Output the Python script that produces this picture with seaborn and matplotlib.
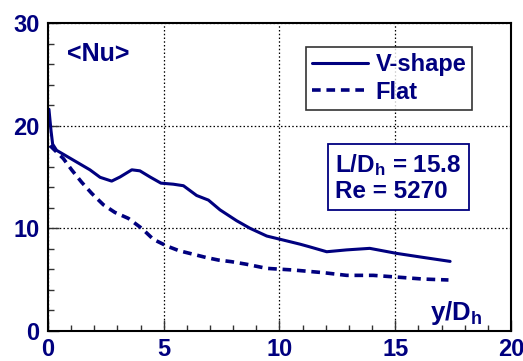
import matplotlib
matplotlib.use("Agg")
import matplotlib.pyplot as plt
import seaborn as sns
import pandas as pd
from matplotlib.ticker import MultipleLocator

# ---- data ----
v_x = [0.04, 0.13, 0.2, 0.37, 1.09, 1.81, 2.25, 2.75, 3.11, 3.62, 3.97, 4.41, 4.88,
       5.41, 5.85, 6.42, 6.93, 7.43, 8.15, 8.73, 9.45, 10.16, 10.45, 10.9, 11.3,
       12.04, 12.9, 13.9, 15.06, 16.2, 17.37]
v_y = [21.6, 19.5, 18.2, 17.6, 16.65, 15.7, 14.97, 14.6, 15.0, 15.7, 15.6, 15.0, 14.4,
       14.3, 14.15, 13.2, 12.75, 11.8, 10.74, 10.0, 9.25, 8.86, 8.7, 8.45, 8.2,
       7.72, 7.9, 8.05, 7.56, 7.17, 6.78]
f_x = [0.09, 0.66, 1.02, 1.45, 1.89, 2.39, 2.89, 3.47, 4.05, 4.55, 5.13, 5.66, 6.23,
       6.81, 7.36, 7.93, 8.58, 9.45, 10.6, 11.9, 12.9, 14.05, 15.2, 16.2, 17.3]
f_y = [18.05, 16.8, 15.7, 14.5, 13.4, 12.3, 11.55, 10.97, 10.0, 8.93, 8.28, 7.82, 7.5,
       7.17, 6.91, 6.75, 6.5, 6.1, 5.94, 5.68, 5.42, 5.42, 5.23, 5.06, 4.97]
series_labels = ["V-shape", "Flat"]
x_ticks = [0, 5, 10, 15, 20]
y_ticks = [0, 10, 20, 30]

navy = "#00007f"

sns.set_style("ticks")
plt.rcParams["font.family"] = ["Liberation Sans", "DejaVu Sans"]
plt.rcParams["font.weight"] = "bold"
plt.rcParams["mathtext.fontset"] = "custom"
plt.rcParams["mathtext.rm"] = "Liberation Sans:bold"
plt.rcParams["mathtext.it"] = "Liberation Sans:bold"
plt.rcParams["mathtext.bf"] = "Liberation Sans:bold"
plt.rcParams["mathtext.default"] = "rm"

fig = plt.figure(figsize=(5.23, 3.61), dpi=100)
ax = fig.add_axes([0.0918, 0.0831, 0.8852, 0.8532])

df_v = pd.DataFrame({"x": v_x, "y": v_y})
df_f = pd.DataFrame({"x": f_x, "y": f_y})
sns.lineplot(data=df_v, x="x", y="y", ax=ax, color=navy, lw=2.2, label=series_labels[0],
             sort=False, estimator=None)
sns.lineplot(data=df_f, x="x", y="y", ax=ax, color=navy, lw=2.6, label=series_labels[1],
             sort=False, estimator=None, linestyle=(0, (2.4, 1.6)))

ax.set_xlim(0, 20)
ax.set_ylim(0, 30)
ax.set_xticks(x_ticks)
ax.set_yticks(y_ticks)
ax.xaxis.set_minor_locator(MultipleLocator(1))
ax.yaxis.set_minor_locator(MultipleLocator(2))
ax.set_xlabel("")
ax.set_ylabel("")
ax.grid(True, which="major", color="black", linestyle=(0, (1.2, 1.8)), lw=0.9)
ax.tick_params(which="both", direction="in", color="#333333", width=1.0)
ax.tick_params(which="major", length=8, labelsize=17, labelcolor=navy)
ax.tick_params(axis="x", which="major", pad=5)
ax.tick_params(axis="y", which="major", pad=6)
ax.tick_params(which="minor", length=4)
for lab in ax.get_xticklabels() + ax.get_yticklabels():
    lab.set_fontweight("bold")
for sp in ax.spines.values():
    sp.set_visible(True)
    sp.set_linewidth(1.5)
    sp.set_color("black")

ax.text(0.04, 0.9, "<Nu>", transform=ax.transAxes, color=navy, fontsize=18,
        fontweight="bold", ha="left", va="center")
ax.text(0.937, 0.06, "y/D$_\\mathregular{h}$", transform=ax.transAxes, color=navy,
        fontsize=18.5, fontweight="bold", ha="right", va="center")
ax.text(0.62, 0.498, "L/D$_\\mathregular{h}$ = 15.8\nRe = 5270", transform=ax.transAxes,
        color=navy, fontsize=17.5, fontweight="bold", ha="left", va="center",
        linespacing=1.12,
        bbox=dict(boxstyle="square,pad=0.3", fc="white", ec=navy, lw=1.3))

leg = ax.legend(loc="upper right", bbox_to_anchor=(0.916, 0.922), frameon=True,
                fancybox=False, edgecolor="black", fontsize=17, handlelength=2.4,
                handletextpad=0.3, borderpad=0.25, labelspacing=0.2, borderaxespad=0)
leg.get_frame().set_linewidth(1.2)
for t in leg.get_texts():
    t.set_color(navy)
    t.set_fontweight("bold")

fig.savefig("out.png", dpi=100)
